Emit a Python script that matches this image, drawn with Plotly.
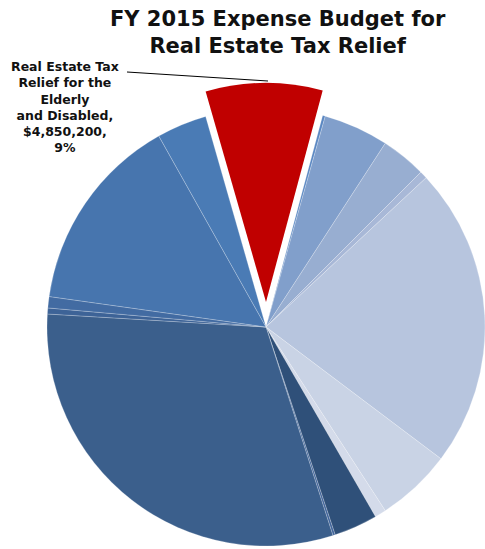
import plotly.graph_objects as go

W, H = 485, 549

# FY 2015 real estate tax relief budget, in dollars, clockwise from the highlighted program
labels = [
    "Real Estate Tax Relief for the Elderly and Disabled",
    "Slice 2", "Slice 3", "Slice 4", "Slice 5", "Slice 6", "Slice 7", "Slice 8",
    "Slice 9", "Slice 10", "Slice 11", "Slice 12", "Slice 13", "Slice 14", "Slice 15",
]
values = [
    4850200, 109500, 2706700, 1877500, 312900, 12516600, 3129200, 469400,
    1814900, 93900, 17398100, 250300, 469400, 8245300, 2080900,
]
colors = [
    "#c00000", "#5a87c2", "#819fcb", "#98aed1", "#a8b8d7", "#b7c5de", "#c9d3e5",
    "#d4dbea", "#2f5079", "#40649a", "#3b5f8c", "#3d6397", "#426ba2", "#4775ae",
    "#4a7bb5",
]
highlight = 0
callout_text = "Real Estate Tax<br>Relief for the<br>Elderly<br>and Disabled,<br>$4,850,200,<br>9%"
title_text = "FY 2015 Expense Budget for<br>Real Estate Tax Relief"

# pie geometry in pixels
cx, cy, r = 266, 327, 219
lift = 25  # how far the highlighted slice is pulled out


def dom(cx, cy, r):
    return dict(x=[(cx - r) / W, min(1.0, (cx + r) / W)],
                y=[max(0.0, (H - (cy + r)) / H), (H - (cy - r)) / H])


def bold(s):
    return "<b>" + s.replace("<br>", "</b><br><b>") + "</b>"


clear = "rgba(0,0,0,0)"
base_colors = [clear if i == highlight else c for i, c in enumerate(colors)]
base_lines = [0 if i == highlight else 0.5 for i in range(len(values))]
top_colors = [c if i == highlight else clear for i, c in enumerate(colors)]

fig = go.Figure()
fig.add_trace(go.Pie(
    labels=labels, values=values, sort=False, direction="clockwise",
    rotation=-16, textinfo="none", showlegend=False,
    marker=dict(colors=base_colors,
                line=dict(color="rgba(255,255,255,0.45)", width=base_lines)),
    domain=dom(cx, cy, r),
))
fig.add_trace(go.Pie(
    labels=labels, values=values, sort=False, direction="clockwise",
    rotation=-16, textinfo="none", showlegend=False, hoverinfo="skip",
    marker=dict(colors=top_colors, line=dict(width=0)),
    domain=dom(cx, cy - lift, r),
))

fig.add_annotation(
    text=bold(title_text),
    x=278 / W, y=1 - 33 / H, xref="paper", yref="paper",
    xanchor="center", yanchor="middle", showarrow=False,
    font=dict(family="DejaVu Sans", size=21, color="#111111"),
)
fig.add_annotation(
    text=bold(callout_text),
    x=65 / W, y=1 - 107 / H, xref="paper", yref="paper",
    xanchor="center", yanchor="middle", showarrow=False, align="center",
    font=dict(family="DejaVu Sans", size=12.5, color="#111111"),
)
fig.add_shape(type="line", xref="paper", yref="paper",
              x0=127 / W, y0=1 - 72 / H, x1=268 / W, y1=1 - 81 / H,
              line=dict(color="#000000", width=1))

fig.update_layout(
    width=W, height=H, margin=dict(l=0, r=0, t=0, b=0),
    paper_bgcolor="white", plot_bgcolor="white",
    font=dict(family="DejaVu Sans"),
)
fig.write_html("out.html")
